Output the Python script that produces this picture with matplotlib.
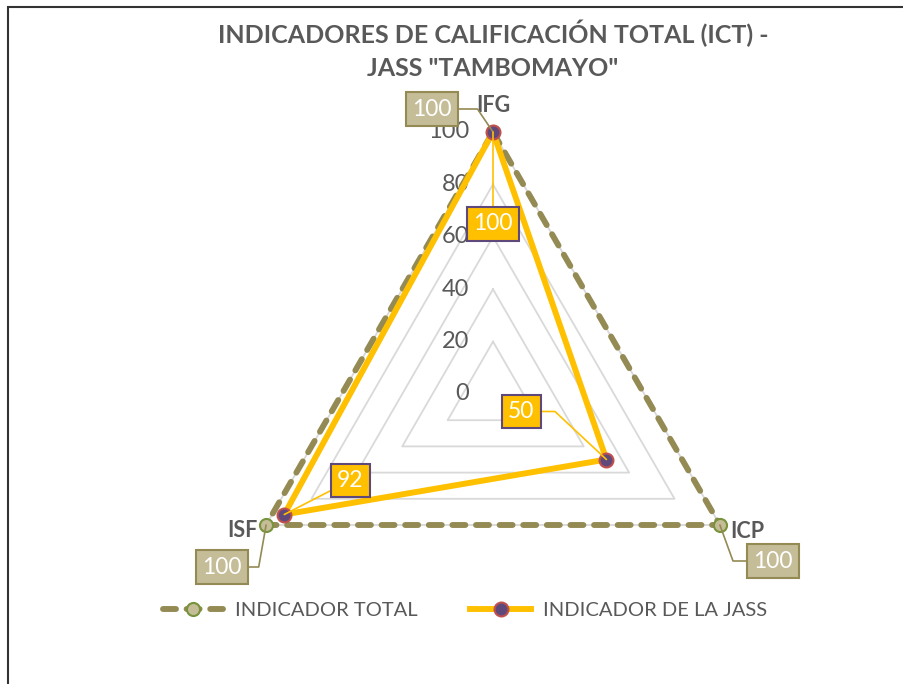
import numpy as np
import matplotlib.pyplot as plt
from matplotlib.patches import Rectangle
from matplotlib.lines import Line2D

# data
categories = ["IFG", "ICP", "ISF"]
total_vals = [100, 100, 100]
jass_vals = [100, 50, 92]
ring_vals = [20, 40, 60, 80, 100]
tick_vals = [0, 20, 40, 60, 80, 100]
series_names = ["INDICADOR TOTAL", "INDICADOR DE LA JASS"]

GRAY_TXT = "#595959"
OLIVE = "#948a54"
TAN = "#c4bd97"
GREEN = "#77933c"
YELLOW = "#ffc000"
PURPLE = "#5f497a"
RED = "#c0504d"
FONT = "Lato"

plt.rcParams["font.family"] = [FONT, "DejaVu Sans"]

W, H = 904, 684
fig = plt.figure(figsize=(W / 100, H / 100), dpi=100)

# polar axes placed so that centre is at (493, 394) px and r=100 -> 262 px
cx, cy, R = 493, 394, 262
ax = fig.add_axes([(cx - R) / W, (H - cy - R) / H, 2 * R / W, 2 * R / H],
                  projection="polar")
ax.set_theta_zero_location("N")
ax.set_theta_direction(-1)
ax.set_ylim(0, 100)
ax.grid(False)
ax.set_xticks([])
ax.set_yticks([])
ax.spines["polar"].set_visible(False)
ax.patch.set_visible(False)

theta = np.deg2rad([0, 120, 240])
theta_c = np.append(theta, theta[0])

# triangle grid rings
for r in ring_vals:
    ax.plot(theta_c, [r] * 4, color="#d9d9d9", lw=1.3, zorder=1, clip_on=False)

# radial tick labels
for t in tick_vals:
    ax.annotate(str(t), xy=(0, t), xytext=(-24, 0), textcoords="offset pixels",
                ha="right", va="center", fontsize=17, color=GRAY_TXT)

# series
tot = np.append(total_vals, total_vals[0])
jas = np.append(jass_vals, jass_vals[0])
ax.plot(theta_c, tot, color=OLIVE, lw=4.25, dashes=(2.2, 1.8),
        dash_capstyle="round", zorder=3, clip_on=False)
ax.plot(theta, total_vals, ls="none", marker="o", ms=9.4, mfc=TAN, mec=GREEN,
        mew=1.5, zorder=6, clip_on=False)
ax.plot(theta_c, jas, color=YELLOW, lw=4.25, solid_joinstyle="miter", zorder=4,
        clip_on=False)
ax.plot(theta, jass_vals, ls="none", marker="o", ms=10, mfc=PURPLE, mec=RED,
        mew=1.5, zorder=7, clip_on=False)

# category labels
cat_off = [(0, 26), (27, -6), (-24, -5)]
for th, lab, off in zip(theta, categories, cat_off):
    ax.annotate(lab, xy=(th, 100), xytext=off, textcoords="offset pixels",
                ha="center", va="center", fontsize=15.5, fontweight="bold",
                color=GRAY_TXT, zorder=8)

# data labels
def label(th, val, off, fc, ec, lc, conn):
    ax.annotate(str(val), xy=(th, val), xytext=off, textcoords="offset pixels",
                ha="center", va="center", fontsize=16.5, color="white", zorder=9,
                bbox=dict(boxstyle="square,pad=0.28", fc=fc, ec=ec, lw=1.5),
                arrowprops=dict(arrowstyle="-", color=lc, lw=1.2,
                                shrinkA=0, shrinkB=0, connectionstyle=conn))

tot_off = [(-61, 23), (53, -36), (-44, -42)]
tot_conn = ["angle,angleA=0,angleB=124,rad=0",
            "angle,angleA=180,angleB=110,rad=0",
            "angle,angleA=0,angleB=80,rad=0"]
for th, v, off, cn in zip(theta, total_vals, tot_off, tot_conn):
    label(th, v, off, TAN, OLIVE, OLIVE, cn)

jas_off = [(0, -92), (-85, 48), (66, 34)]
jas_conn = ["arc3,rad=0",
            "angle,angleA=0,angleB=137,rad=0",
            "arc3,rad=0"]
for th, v, off, cn in zip(theta, jass_vals, jas_off, jas_conn):
    label(th, v, off, YELLOW, PURPLE, YELLOW, cn)

# title
fig.text(cx / W, 1 - 33 / H, "INDICADORES DE CALIFICACIÓN TOTAL (ICT) -",
         ha="center", va="center", fontsize=18, fontweight="bold", color=GRAY_TXT)
fig.text(cx / W, 1 - 68 / H, 'JASS "TAMBOMAYO"',
         ha="center", va="center", fontsize=18, fontweight="bold", color=GRAY_TXT)

# legend
handles = [
    Line2D([], [], color=OLIVE, lw=4.25, dashes=(2.2, 1.8), dash_capstyle="round",
           marker="o", ms=9.4, mfc=TAN, mec=GREEN, mew=1.5),
    Line2D([], [], color=YELLOW, lw=4.25, marker="o", ms=10, mfc=PURPLE,
           mec=RED, mew=1.5),
]
fig.legend(handles, series_names, loc="center", ncol=2, frameon=False,
           bbox_to_anchor=(465 / W, 1 - 610 / H), fontsize=14.5,
           labelcolor=GRAY_TXT, handlelength=3.0, handletextpad=0.6,
           columnspacing=2.6, numpoints=1)

# outer border
fig.patches.append(Rectangle((8 / W, -0.1), 1.2, 1 - 7 / H + 0.1,
                             transform=fig.transFigure, fill=False,
                             ec="#333333", lw=1.5, clip_on=False))

fig.savefig("out.png", dpi=100)
